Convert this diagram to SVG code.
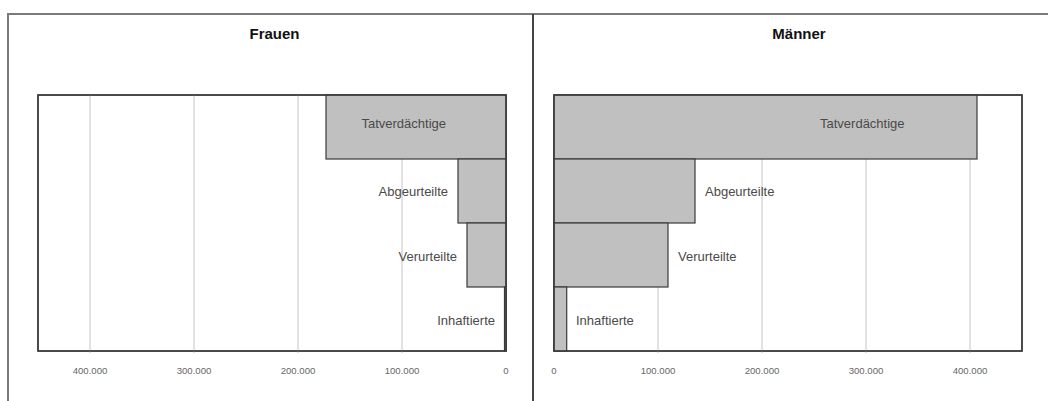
<svg xmlns="http://www.w3.org/2000/svg" width="1048" height="401" viewBox="0 0 1048 401">
<style>
.frame{stroke:#7a7a7a;stroke-width:2;fill:none}
.div{stroke:#444;stroke-width:2}
.plot{fill:#fff;stroke:#3a3a3a;stroke-width:1.4}
.grid{stroke:#c4c4c4;stroke-width:1}
.bar{fill:#c0c0c0;stroke:#3a3a3a;stroke-width:1.2}
.title{font-family:"Liberation Sans",Arial,sans-serif;font-size:15px;font-weight:bold;fill:#111;text-anchor:middle}
.lab{font-family:"Liberation Sans",Arial,sans-serif;font-size:13px;fill:#4a4a4a}
.tick{font-family:"Liberation Sans",Arial,sans-serif;font-size:9.6px;fill:#666;text-anchor:middle}
</style>
<rect width="1048" height="401" fill="#fff"/>
<g id="frame">
<path class="frame" d="M8,401 V14 H1048"/>
<line class="div" x1="533" y1="14" x2="533" y2="401"/>
</g>
<g id="frauen">
<text class="title" x="274.5" y="39">Frauen</text>
<rect class="plot" x="38" y="95" width="468" height="256"/>
<g class="gridlines">
<line class="grid" x1="90" y1="95" x2="90" y2="353"/>
<line class="grid" x1="194" y1="95" x2="194" y2="353"/>
<line class="grid" x1="298" y1="95" x2="298" y2="353"/>
<line class="grid" x1="402" y1="95" x2="402" y2="353"/>
</g>
<rect class="bar" x="326" y="95" width="180" height="64"/>
<rect class="bar" x="458" y="159" width="48" height="64"/>
<rect class="bar" x="467" y="223" width="39" height="64"/>
<rect class="bar" x="504.5" y="287" width="1.5" height="64"/>
<rect x="38" y="95" width="468" height="256" fill="none" stroke="#3a3a3a" stroke-width="1.4"/>
<text class="lab" x="446" y="127.5" text-anchor="end">Tatverdächtige</text>
<text class="lab" x="448" y="195.5" text-anchor="end">Abgeurteilte</text>
<text class="lab" x="457" y="260.5" text-anchor="end">Verurteilte</text>
<text class="lab" x="495" y="324.5" text-anchor="end">Inhaftierte</text>
<text class="tick" x="90" y="373.5">400.000</text>
<text class="tick" x="194" y="373.5">300.000</text>
<text class="tick" x="298" y="373.5">200.000</text>
<text class="tick" x="402" y="373.5">100.000</text>
<text class="tick" x="506" y="373.5">0</text>
</g>
<g id="maenner">
<text class="title" x="799" y="39">Männer</text>
<rect class="plot" x="554" y="95" width="468" height="256"/>
<g class="gridlines">
<line class="grid" x1="658" y1="95" x2="658" y2="353"/>
<line class="grid" x1="762" y1="95" x2="762" y2="353"/>
<line class="grid" x1="866" y1="95" x2="866" y2="353"/>
<line class="grid" x1="970" y1="95" x2="970" y2="353"/>
</g>
<rect class="bar" x="554" y="95" width="423" height="64"/>
<rect class="bar" x="554" y="159" width="141" height="64"/>
<rect class="bar" x="554" y="223" width="114" height="64"/>
<rect class="bar" x="554" y="287" width="12.7" height="64"/>
<rect x="554" y="95" width="468" height="256" fill="none" stroke="#3a3a3a" stroke-width="1.4"/>
<text class="lab" x="820" y="127.5">Tatverdächtige</text>
<text class="lab" x="705" y="195.5">Abgeurteilte</text>
<text class="lab" x="678" y="260.5">Verurteilte</text>
<text class="lab" x="576" y="324.5">Inhaftierte</text>
<text class="tick" x="554" y="373.5">0</text>
<text class="tick" x="658" y="373.5">100.000</text>
<text class="tick" x="762" y="373.5">200.000</text>
<text class="tick" x="866" y="373.5">300.000</text>
<text class="tick" x="970" y="373.5">400.000</text>
</g>
</svg>
